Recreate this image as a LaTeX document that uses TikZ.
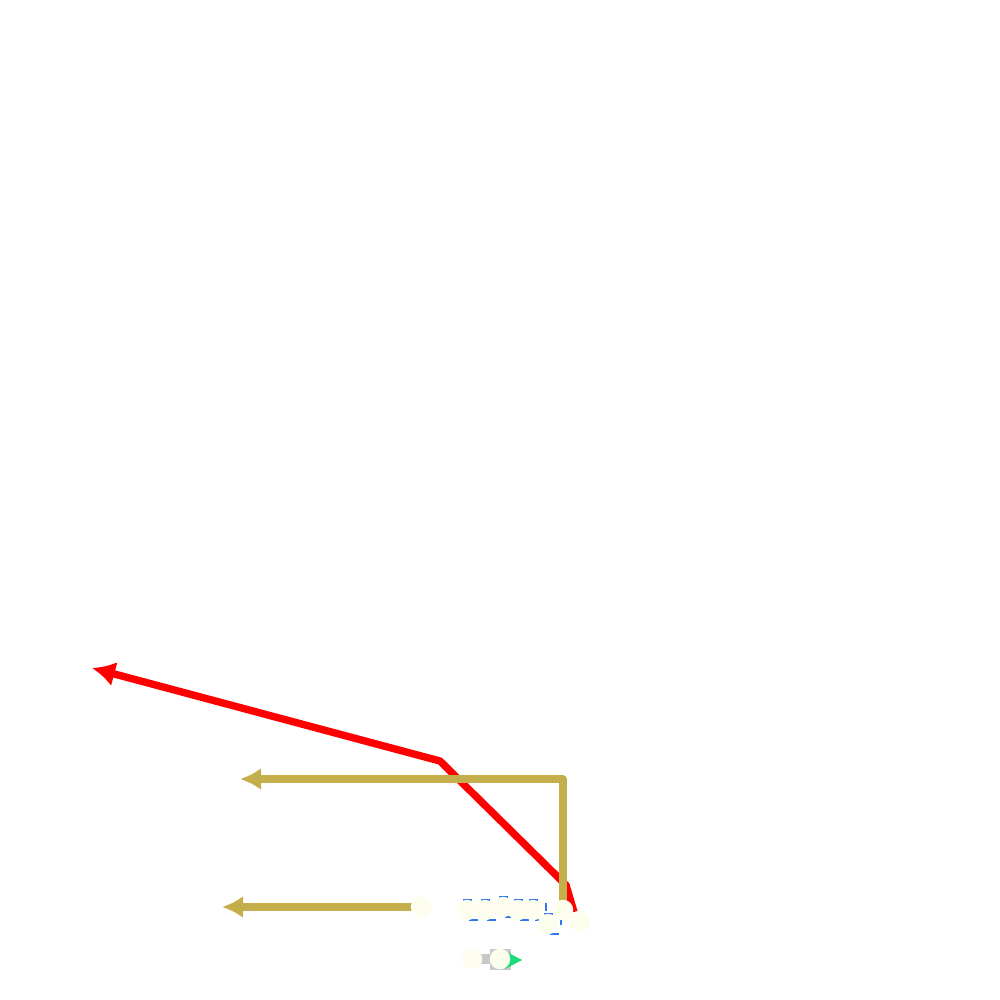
\documentclass[tikz,border=0pt]{standalone}
\usetikzlibrary{arrows.meta}

\definecolor{dotfill}{HTML}{FEFEEE}
\definecolor{pathred}{HTML}{FF0000}
\definecolor{pathtan}{HTML}{C4AE4C}
\definecolor{markblue}{HTML}{3377F0}
\definecolor{stemgrey}{HTML}{C8C8C8}
\definecolor{tipgreen}{HTML}{1ADC7A}

\begin{document}
\begin{tikzpicture}[%
        x = 0.01cm,
        y = -0.01cm,
        > = Latex,
        line width = 2pt,
        line join = round,
        dot/.style = {%
            circle,
            fill = dotfill,
            inner sep = 0pt,
            minimum size = 2.05mm
        },
        frame/.style = {%
            draw = markblue,
            line width = 0.6pt,
            dash pattern = on 2.4pt off 3.2pt,
            dash phase = 3pt,
            inner sep = 0pt,
            minimum size = 2mm,
            xshift = 0.3mm
        },
        box/.style = {%
            fill = stemgrey,
            inner sep = 0pt,
            minimum size = 2.1mm
        }
    ]

        \useasboundingbox (0, 0) rectangle (1000, 1000);

        % Coordinates for the points on the paths.
        \coordinate (R0) at (574, 912);
        \coordinate (R1) at (566, 885);
        \coordinate (R2) at (440, 761);
        \coordinate (R3) at (92, 668);
        \coordinate (T1) at (563, 779);
        \coordinate (T2) at (240, 779);
        \coordinate (T3) at (222, 907);

        % Positions of the dots.
        \coordinate (A) at (421, 907);
        \coordinate (B1) at (467, 910);
        \coordinate (B2) at (485, 910);
        \coordinate (B3) at (503, 907);
        \coordinate (B4) at (518, 910);
        \coordinate (B5) at (533, 910);
        \coordinate (B6) at (548, 924);
        \coordinate (C) at (563, 910);
        \coordinate (D) at (580, 922);
        \coordinate (E1) at (472, 959);
        \coordinate (E2) at (500, 959);

        % Red path.
        \draw[->, pathred, line width = 2.1pt, >={Latex[length = 2.3mm, width = 2.5mm]}]
            (R0) -- (R1) -- (R2) -- (R3);

        % Tan paths.
        \begin{scope}[pathtan, >={Latex[length = 2.1mm, width = 2.2mm]}]
            \draw[->] (C) -- (T1) -- (T2);
            \draw[->] (A) -- (T3);
        \end{scope}

        % Grey stem with its green tip.
        \draw[stemgrey, line width = 2.6pt] (E1) -- (E2);
        \node[box] (e2box) at (E2) {};
        \fill[tipgreen] (505, 951) -- (522, 960) -- (505, 969) -- cycle;

        % Dashed frames behind the dots.
        \foreach \p in {B1, B2, B3, B4, B5, B6}{%
            \node[frame] at (\p) {};
        }

        % Dots.
        \foreach \p in {A, B1, B2, B3, B4, B5, B6, C, D, E1, E2}{%
            \node[dot] (n\p) at (\p) {};
        }
    \end{tikzpicture}
\end{document}
